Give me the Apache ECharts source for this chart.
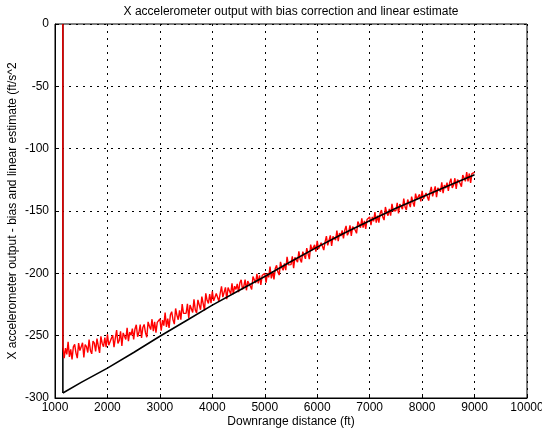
<!DOCTYPE html>
<html>
<head>
<meta charset="utf-8">
<script src="https://cdn.jsdelivr.net/npm/echarts@6/dist/echarts.min.js"></script>
<style>
  html, body { margin: 0; padding: 0; background: #fff; }
  #chart { width: 542px; height: 435px; }
</style>
</head>
<body>
<div id="chart"></div>
<script>
// Downrange distance (ft) of each accelerometer sample
const measDistance = [
  1150,
  1150, 1175, 1200, 1225, 1250, 1275, 1300, 1325, 1350, 1375, 1400, 1425, 1450, 1475,
  1500, 1525, 1550, 1575, 1600, 1625, 1650, 1675, 1700, 1725, 1750, 1775, 1800, 1825, 1850, 1875, 1900, 1925, 1950, 1975,
  2000, 2025, 2050, 2075, 2100, 2125, 2150, 2175, 2200, 2225, 2250, 2275, 2300, 2325, 2350, 2375, 2400, 2425, 2450, 2475,
  2500, 2525, 2550, 2575, 2600, 2625, 2650, 2675, 2700, 2725, 2750, 2775, 2800, 2825, 2850, 2875, 2900, 2925, 2950, 2975,
  3000, 3025, 3050, 3075, 3100, 3125, 3150, 3175, 3200, 3225, 3250, 3275, 3300, 3325, 3350, 3375, 3400, 3425, 3450, 3475,
  3500, 3525, 3550, 3575, 3600, 3625, 3650, 3675, 3700, 3725, 3750, 3775, 3800, 3825, 3850, 3875, 3900, 3925, 3950, 3975,
  4000, 4025, 4050, 4075, 4100, 4125, 4150, 4175, 4200, 4225, 4250, 4275, 4300, 4325, 4350, 4375, 4400, 4425, 4450, 4475,
  4500, 4525, 4550, 4575, 4600, 4625, 4650, 4675, 4700, 4725, 4750, 4775, 4800, 4825, 4850, 4875, 4900, 4925, 4950, 4975,
  5000, 5025, 5050, 5075, 5100, 5125, 5150, 5175, 5200, 5225, 5250, 5275, 5300, 5325, 5350, 5375, 5400, 5425, 5450, 5475,
  5500, 5525, 5550, 5575, 5600, 5625, 5650, 5675, 5700, 5725, 5750, 5775, 5800, 5825, 5850, 5875, 5900, 5925, 5950, 5975,
  6000, 6025, 6050, 6075, 6100, 6125, 6150, 6175, 6200, 6225, 6250, 6275, 6300, 6325, 6350, 6375, 6400, 6425, 6450, 6475,
  6500, 6525, 6550, 6575, 6600, 6625, 6650, 6675, 6700, 6725, 6750, 6775, 6800, 6825, 6850, 6875, 6900, 6925, 6950, 6975,
  7000, 7025, 7050, 7075, 7100, 7125, 7150, 7175, 7200, 7225, 7250, 7275, 7300, 7325, 7350, 7375, 7400, 7425, 7450, 7475,
  7500, 7525, 7550, 7575, 7600, 7625, 7650, 7675, 7700, 7725, 7750, 7775, 7800, 7825, 7850, 7875, 7900, 7925, 7950, 7975,
  8000, 8025, 8050, 8075, 8100, 8125, 8150, 8175, 8200, 8225, 8250, 8275, 8300, 8325, 8350, 8375, 8400, 8425, 8450, 8475,
  8500, 8525, 8550, 8575, 8600, 8625, 8650, 8675, 8700, 8725, 8750, 8775, 8800, 8825, 8850, 8875, 8900, 8925, 8950, 8975,
  9000
];
// Bias-corrected X accelerometer output (ft/s^2)
const measAccel = [
  0,
  -258, -268, -260, -265, -255, -267, -261, -269, -259, -257, -264, -268, -256, -262,
  -263, -255.7, -267.4, -257.1, -258.8, -263.5, -253.2, -261.9, -264.6, -254.3, -256, -262.7, -252.4, -258.1, -263.8, -250.5, -256.2, -258.9, -251.6, -259.3,
  -249, -257.7, -259.3, -252, -249.6, -259.3, -251.9, -245.6, -256.2, -253.9, -246.5, -258.2, -247.8, -250.5, -253.1, -243.8, -254.4, -247.1, -249.7, -244.4,
  -253, -244.6, -241.3, -250.9, -247.5, -241.1, -251.8, -243.4, -241, -247.6, -251.3, -238.9, -242.5, -245.1, -236.8, -246.4, -239, -247.6, -239.3, -240.9,
  -236.5, -246, -237.5, -241.9, -231.4, -242.9, -236.4, -243.8, -233.3, -230.8, -237.3, -240.7, -228.2, -233.7, -237.2, -229.6, -237.1, -224.6, -232.1, -233.5,
  -232, -224.5, -236, -225.4, -226.9, -231.4, -220.9, -229.3, -231.8, -221.3, -222.8, -229.2, -218.7, -224.2, -229.7, -216.1, -221.6, -224.1, -216.6, -224,
  -214.5, -222.1, -222.7, -216.2, -214.8, -222.4, -216, -210.5, -219.1, -217.7, -211.3, -220.8, -211.4, -214, -216.6, -208.1, -216.7, -210.3, -212.9, -208.4,
  -215, -207.6, -205.2, -212.8, -210.4, -205, -213.6, -206.2, -204.8, -210.4, -213, -202.6, -205.2, -207.8, -200.4, -208, -201.6, -209.2, -201.8, -203.4,
  -200, -207.4, -199.8, -203.2, -194.6, -204, -198.4, -204.8, -196.2, -193.6, -199, -201.4, -190.8, -195.2, -197.6, -192, -197.4, -186.8, -193.2, -193.6,
  -193, -186.4, -195.8, -187.2, -187.6, -191, -182.4, -188.8, -191.2, -182.6, -183, -188.4, -179.8, -184.2, -188.6, -177, -181.4, -182.8, -177.2, -182.6,
  -174, -180.5, -181.9, -175.4, -173.8, -181.3, -174.7, -170.2, -177.6, -176.1, -169.5, -178, -170.4, -171.9, -173.3, -165.8, -174.2, -167.7, -170.1, -165.6,
  -172, -165.5, -162, -169.5, -167, -161.5, -170, -162.5, -160.9, -165.4, -167.9, -158.4, -160.9, -163.4, -155.9, -163.4, -157.9, -164.4, -156.8, -158.3,
  -154.8, -161.3, -154.8, -158.3, -150.8, -159.3, -153.8, -159.3, -151.8, -149.3, -154.8, -157.3, -146.8, -151.3, -153.8, -148.3, -153.8, -144.3, -149.8, -150.3,
  -149.8, -143.4, -151.9, -144.5, -145, -148.6, -140.1, -146.7, -149.2, -140.8, -141.3, -146.9, -138.4, -143, -146.5, -136, -140.6, -142.2, -136.7, -142.3,
  -133.8, -140.4, -141.9, -135.5, -134, -141.6, -135.1, -130.7, -138.2, -136.8, -130.3, -138.9, -131.4, -133, -134.5, -127.1, -135.6, -129.2, -131.7, -127.3,
  -133.8, -127.4, -124, -131.5, -129.1, -123.7, -132.2, -124.8, -123.4, -127.9, -130.5, -121.1, -123.6, -126.2, -118.8, -126.3, -119.9, -127.5, -120, -120.6,
  -119
];
// Linear estimate of the acceleration along the same track
const estDistance = [1150, 1150, 1500, 2000, 2500, 3000, 3500, 4000, 4500, 5000, 5500, 6000, 6500, 7000, 7500, 8000, 8500, 9000];
const estAccel = [0, -296, -287.5, -276, -263.5, -250.5, -238, -225.5, -214, -202.5, -190.5, -179, -168, -157.8, -147.8, -138.8, -129.8, -121];

const xTicks = [1000, 2000, 3000, 4000, 5000, 6000, 7000, 8000, 9000, 10000];
const yTicks = [-300, -250, -200, -150, -100, -50, 0];

const titleText = 'X accelerometer output with bias correction and linear estimate';
const xName = 'Downrange distance (ft)';
const yName = 'X accelerometer output - bias and linear estimate (ft/s^2';

const zip = (xs, ys) => xs.map((x, i) => [x, ys[i]]);
const measData = zip(measDistance, measAccel);
const estData = zip(estDistance, estAccel);

const FONT = 'Liberation Sans, Arial, Helvetica, sans-serif';
const FS = 12;
const gridLine = { show: true, lineStyle: { color: '#000', width: 1, type: [2, 5] } };

const chart = echarts.init(document.getElementById('chart'), null, { renderer: 'canvas' });
chart.setOption({
  animation: false,
  backgroundColor: '#fff',
  graphic: [{
    type: 'text', x: 291, y: 12,
    style: { text: titleText, textAlign: 'center', textVerticalAlign: 'middle', font: FS + 'px ' + FONT, fill: '#000' }
  }],
  grid: {
    left: 55, right: 15, top: 24, bottom: 37,
    outerBoundsMode: 'none', containLabel: false,
    show: true, borderColor: '#000', borderWidth: 1, backgroundColor: '#fff'
  },
  xAxis: {
    type: 'value', min: xTicks[0], max: xTicks[xTicks.length - 1], interval: 1000,
    name: xName, nameLocation: 'middle', nameGap: 18, nameMoveOverlap: false,
    nameTextStyle: { color: '#000', fontSize: FS, fontFamily: FONT },
    axisLine: { show: true, onZero: false, lineStyle: { color: '#000', width: 1 } },
    axisTick: { show: true, inside: true, length: 4, lineStyle: { color: '#000' } },
    axisLabel: { color: '#000', fontSize: FS, fontFamily: FONT, margin: 4, formatter: v => String(v) },
    splitLine: gridLine
  },
  yAxis: {
    type: 'value', min: yTicks[0], max: yTicks[yTicks.length - 1], interval: 50,
    name: yName, nameLocation: 'middle', nameGap: 36, nameMoveOverlap: false,
    nameTextStyle: { color: '#000', fontSize: FS, fontFamily: FONT },
    axisLine: { show: true, onZero: false, lineStyle: { color: '#000', width: 1 } },
    axisTick: { show: true, inside: true, length: 4, lineStyle: { color: '#000' } },
    axisLabel: { color: '#000', fontSize: FS, fontFamily: FONT, margin: 6, formatter: v => String(v) },
    splitLine: gridLine
  },
  series: [
    { // lead-in of the estimate, kept beneath the measurement
      type: 'line', data: estData.slice(0, 2), showSymbol: false, z: 2,
      lineStyle: { color: '#000', width: 1.6 }
    },
    {
      type: 'line', data: measData, showSymbol: false, z: 3,
      lineStyle: { color: '#ff0000', width: 1.4 }
    },
    {
      type: 'line', data: estData.slice(1), showSymbol: false, z: 4,
      lineStyle: { color: '#000', width: 1.6 }
    }
  ]
});
</script>
</body>
</html>
